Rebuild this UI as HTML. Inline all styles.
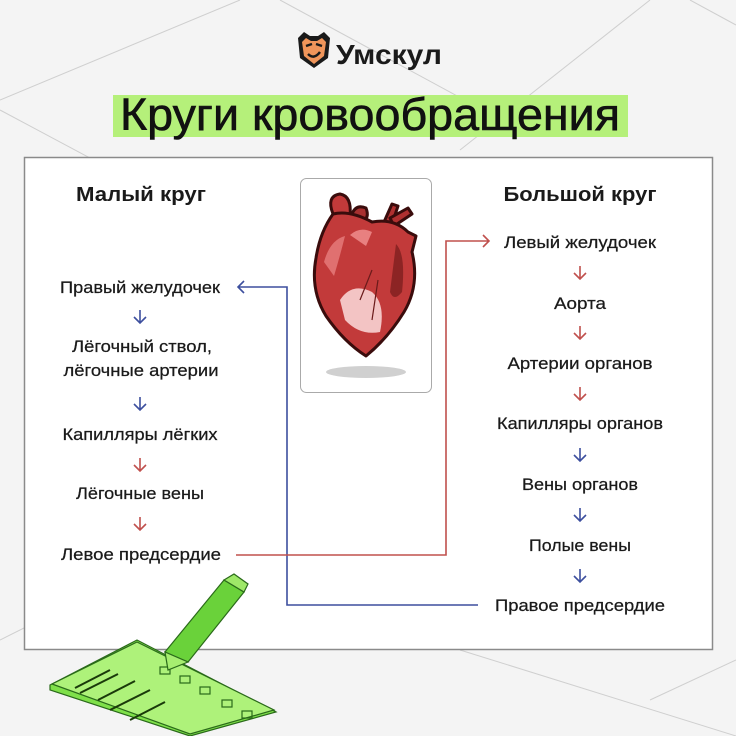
<!DOCTYPE html>
<html><head><meta charset="utf-8"><style>
html,body{margin:0;padding:0;background:#f4f4f4}
svg{display:block}
text{font-family:"Liberation Sans",sans-serif;fill:#1a1a1a}
</style></head><body>
<svg width="736" height="736" viewBox="0 0 736 736" xmlns="http://www.w3.org/2000/svg">
<rect width="736" height="736" fill="#f4f4f4"/>
<g stroke="#cfcfcf" stroke-width="1" fill="none">
<line x1="0" y1="100" x2="240" y2="0"/><line x1="280" y1="0" x2="520" y2="130"/>
<line x1="0" y1="110" x2="150" y2="190"/><line x1="460" y1="150" x2="650" y2="0"/>
<line x1="690" y1="0" x2="736" y2="25"/><line x1="0" y1="640" x2="40" y2="620"/>
<line x1="460" y1="650" x2="736" y2="736"/><line x1="650" y1="700" x2="736" y2="660"/>
</g>
<g transform="translate(296,32)">
<path d="M2,6 L8,0 L14,4 L22,4 L28,0 L34,6 L32,26 L18,36 L4,26 Z" fill="#1a1a1a"/>
<path d="M6,10 L10,6 L15,9 L21,9 L26,6 L30,10 L28,24 L18,32 L8,24 Z" fill="#f0955a"/>
<path d="M10,14 L16,12 M20,12 L26,14 M12,22 Q18,28 24,20" stroke="#1a1a1a" stroke-width="2.5" fill="none"/>
</g>
<text x="336" y="64" font-size="28" font-weight="bold" textLength="106" lengthAdjust="spacingAndGlyphs">Умскул</text>
<rect x="113" y="95" width="515" height="42" fill="#b5f07a"/>
<text x="370" y="130" font-size="45" text-anchor="middle" textLength="500" lengthAdjust="spacingAndGlyphs" stroke="#111" stroke-width="0.6" style="fill:#111">Круги кровообращения</text>
<rect x="24.5" y="157.5" width="688" height="492" fill="#fff" stroke="#8a8a8a" stroke-width="1.5"/>
<rect x="300.5" y="178.5" width="131" height="214" rx="6" fill="#fff" stroke="#aaa"/>
<ellipse cx="366" cy="372" rx="40" ry="6" fill="#d0d0d0"/>
<g stroke="#3a0c0c" stroke-width="3" stroke-linejoin="round">
<path d="M384,222 L392,204 L398,206 L392,224 Z" fill="#b03030"/>
<path d="M390,218 L408,208 L412,214 L394,226 Z" fill="#b03030"/>
<path d="M333,214 Q326,196 340,194 Q352,196 350,216 Z" fill="#c23a3a"/>
<path d="M352,214 Q356,204 366,208 Q370,218 362,222 Z" fill="#a83030"/>
<path d="M333,214 Q350,210 372,222 Q394,218 408,232 L416,236 L412,252 Q420,285 404,312 Q388,338 366,356 Q344,342 326,316 Q310,290 316,258 Q320,232 333,214 Z" fill="#c23a3a"/>
</g>
<path d="M340,300 Q352,282 372,292 Q386,304 380,332 Q360,336 345,320 Z" fill="#f3c4c4"/>
<path d="M324,262 Q330,240 345,236 Q340,256 334,276 Z" fill="#e07070"/>
<path d="M350,235 Q360,226 372,232 L366,246 Z" fill="#e88080"/>
<path d="M372,270 L360,300 M378,280 L372,320" stroke="#6a1a1a" stroke-width="1.2"/>
<path d="M396,244 Q406,254 402,292 Q394,302 390,292 Z" fill="#8c2424"/>
<text x="141" y="201" font-size="20" font-weight="bold" text-anchor="middle" textLength="130" lengthAdjust="spacingAndGlyphs">Малый круг</text>
<text x="580" y="201" font-size="20" font-weight="bold" text-anchor="middle" textLength="153" lengthAdjust="spacingAndGlyphs">Большой круг</text>
<g font-size="17" text-anchor="middle" stroke="#1a1a1a" stroke-width="0.25">
<text x="140" y="293" textLength="160" lengthAdjust="spacingAndGlyphs">Правый желудочек</text>
<text x="142" y="352" textLength="140" lengthAdjust="spacingAndGlyphs">Лёгочный ствол,</text>
<text x="141" y="376" textLength="155" lengthAdjust="spacingAndGlyphs">лёгочные артерии</text>
<text x="140" y="440" textLength="155" lengthAdjust="spacingAndGlyphs">Капилляры лёгких</text>
<text x="140" y="499" textLength="128" lengthAdjust="spacingAndGlyphs">Лёгочные вены</text>
<text x="141" y="560" textLength="160" lengthAdjust="spacingAndGlyphs">Левое предсердие</text>
<text x="580" y="248" textLength="152" lengthAdjust="spacingAndGlyphs">Левый желудочек</text>
<text x="580" y="309" textLength="52" lengthAdjust="spacingAndGlyphs">Аорта</text>
<text x="580" y="369" textLength="145" lengthAdjust="spacingAndGlyphs">Артерии органов</text>
<text x="580" y="429" textLength="166" lengthAdjust="spacingAndGlyphs">Капилляры органов</text>
<text x="580" y="490" textLength="116" lengthAdjust="spacingAndGlyphs">Вены органов</text>
<text x="580" y="551" textLength="102" lengthAdjust="spacingAndGlyphs">Полые вены</text>
<text x="580" y="611" textLength="170" lengthAdjust="spacingAndGlyphs">Правое предсердие</text>
</g>
<defs>
<g id="da"><path d="M0,0 V13 M-6,7 L0,13 L6,7" fill="none" stroke-width="1.6"/></g>
</defs>
<g stroke="#3d4f9e"><use href="#da" x="140" y="310"/><use href="#da" x="140" y="397"/>
<use href="#da" x="580" y="448"/><use href="#da" x="580" y="508"/><use href="#da" x="580" y="569"/></g>
<g stroke="#c0504d"><use href="#da" x="140" y="458"/><use href="#da" x="140" y="517"/>
<use href="#da" x="580" y="266"/><use href="#da" x="580" y="326"/><use href="#da" x="580" y="387"/></g>
<path d="M478,605 H287 V287 H238 M244,281 L238,287 L244,293" fill="none" stroke="#3d4f9e" stroke-width="1.6"/>
<path d="M236,555 H446 V241 H489 M483,235 L489,241 L483,247" fill="none" stroke="#c0504d" stroke-width="1.6"/>
<g stroke="#2a6a1a" stroke-width="1.2">
<path d="M50,685 L137,640 L276,712 L190,736 L50,690 Z" fill="#7fe04a"/>
<path d="M52,684 L137,642 L274,710 L190,734 Z" fill="#aef27a"/>
<rect x="160" y="667" width="10" height="7" fill="none"/><rect x="180" y="676" width="10" height="7" fill="none"/>
<rect x="200" y="687" width="10" height="7" fill="none"/><rect x="222" y="700" width="10" height="7" fill="none"/><rect x="242" y="711" width="10" height="7" fill="none"/>
<path d="M75,688 L110,670 M80,693 L118,674 M98,700 L135,681 M110,710 L150,690 M130,720 L165,702" stroke="#1a3a0a" stroke-width="2"/>
<path d="M165,652 L224,580 L244,592 L188,662 Z" fill="#6ad23a"/>
<path d="M224,580 L234,574 L248,584 L244,592 Z" fill="#9ee868"/>
<path d="M165,652 L188,662 L168,670 Z" fill="#a6ee70"/>
</g>
</svg>
</body></html>
